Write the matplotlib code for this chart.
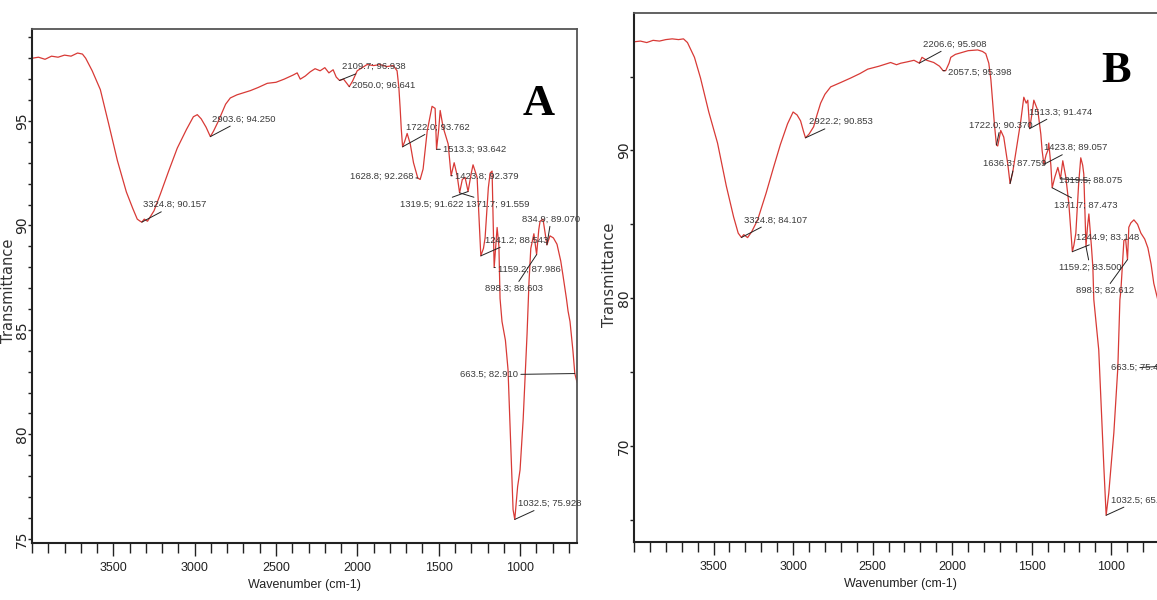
import matplotlib
matplotlib.use("Agg")
import matplotlib.pyplot as plt
from matplotlib.ticker import MultipleLocator

# ---------------- Panel A data ----------------
a_wn = [4000, 3960, 3920, 3880, 3840, 3800, 3760, 3720, 3690, 3670, 3630, 3580, 3530, 3475,
        3420, 3380, 3353, 3335, 3324.8, 3310, 3290, 3250, 3211, 3160, 3107, 3050, 3008, 2984,
        2960, 2930, 2903.6, 2885, 2860, 2843, 2810, 2781, 2740, 2700, 2658, 2610, 2554, 2500,
        2450, 2394, 2370, 2351, 2320, 2290, 2260, 2229, 2200, 2175, 2149, 2130, 2109.7, 2085,
        2065, 2050.0, 2030, 2001, 1970, 1940, 1900, 1860, 1820, 1780, 1756, 1745, 1737, 1730,
        1722.0, 1710, 1694, 1675, 1655, 1628.8, 1614, 1596, 1571, 1541, 1522, 1513.3, 1500,
        1491, 1473, 1442, 1423.8, 1405, 1387, 1371.7, 1355, 1338, 1319.5, 1300, 1289, 1264,
        1241.2, 1225, 1215, 1195, 1184, 1172, 1159.2, 1141, 1130, 1123, 1111, 1090, 1074, 1055,
        1043, 1032.5, 1015, 1000, 981, 957, 945, 934, 915, 898.3, 885, 877, 859, 834.9, 816,
        795, 773, 750, 736, 715, 705, 693, 675, 663.5, 650]
a_t = [98.0, 98.05, 97.95, 98.1, 98.05, 98.15, 98.1, 98.25, 98.2, 98.0, 97.4, 96.5, 94.9, 93.1,
       91.6, 90.8, 90.3, 90.2, 90.157, 90.3, 90.2, 90.7, 91.5, 92.6, 93.7, 94.6, 95.2, 95.3,
       95.1, 94.7, 94.25, 94.5, 94.9, 95.2, 95.8, 96.1, 96.25, 96.35, 96.45, 96.6, 96.8, 96.85,
       97.0, 97.2, 97.3, 97.0, 97.15, 97.35, 97.5, 97.4, 97.55, 97.3, 97.45, 97.1, 96.938, 97.0,
       96.8, 96.641, 96.9, 97.4, 97.55, 97.7, 97.65, 97.7, 97.6, 97.65, 97.4, 96.6, 95.6, 94.6,
       93.762, 94.0, 94.4, 93.9, 93.0, 92.268, 92.2, 92.7, 94.5, 95.7, 95.6, 93.642, 94.6,
       95.5, 94.7, 93.9, 92.379, 93.0, 92.4, 91.559, 92.2, 92.3, 91.622, 92.5, 92.9, 92.3,
       88.543, 88.9, 89.4, 91.8, 92.5, 92.6, 87.986, 89.9, 89.0, 86.5, 85.4, 84.5, 83.1, 79.0,
       76.4, 75.928, 77.5, 78.3, 80.7, 84.8, 87.3, 88.9, 89.6, 88.603, 89.8, 90.2, 90.3, 89.07, 89.5,
       89.4, 89.1, 88.3, 87.6, 86.5, 85.9, 85.4, 84.0, 82.91, 82.5]

a_labels = ["3324.8; 90.157", "2903.6; 94.250", "2109.7; 96.938", "2050.0; 96.641",
            "1722.0; 93.762", "1628.8; 92.268", "1513.3; 93.642", "1423.8; 92.379",
            "1319.5; 91.622", "1371.7; 91.559", "834.9; 89.070", "1241.2; 88.543",
            "1159.2; 87.986", "898.3; 88.603", "663.5; 82.910", "1032.5; 75.928"]
a_peak_wn = [3324.8, 2903.6, 2109.7, 2050.0, 1722.0, 1628.8, 1513.3, 1423.8,
             1319.5, 1371.7, 834.9, 1241.2, 1159.2, 898.3, 663.5, 1032.5]
a_peak_t = [90.157, 94.250, 96.938, 96.641, 93.762, 92.268, 93.642, 92.379,
            91.622, 91.559, 89.070, 88.543, 87.986, 88.603, 82.910, 75.928]
a_text_wn = [3316, 2892, 2094, 2032, 1700, 1657, 1473, 1399,
             1735, 1333, 988, 1215, 1135, 1215, 1012, 1012]
a_text_t = [91.0, 95.1, 97.6, 96.7, 94.7, 92.35, 93.65, 92.35,
            91.0, 91.0, 90.3, 89.3, 87.9, 86.97, 82.85, 76.7]
a_text_ha = ["left"] * 5 + ["right"] + ["left"] * 8 + ["right", "left"]

# ---------------- Panel B data ----------------
b_wn = [4000, 3960, 3920, 3880, 3840, 3800, 3760, 3720, 3689, 3664, 3620, 3582, 3530, 3475,
        3420, 3374, 3345, 3324.8, 3310, 3286, 3260, 3223, 3170, 3123, 3080, 3035, 3000, 2975,
        2953, 2935, 2922.2, 2900, 2871, 2850, 2827, 2800, 2764, 2700, 2638, 2580, 2531, 2460,
        2387, 2350, 2324, 2280, 2240, 2206.6, 2190, 2160, 2116, 2080, 2057.5, 2041, 2020, 2009,
        1980, 1947, 1900, 1840, 1810, 1789, 1770, 1757, 1745, 1735, 1722.0, 1714, 1695, 1676,
        1651, 1636.3, 1620, 1601, 1569, 1550, 1535, 1525, 1513.3, 1500, 1487, 1462, 1443, 1435,
        1423.8, 1410, 1399, 1393, 1380, 1371.7, 1355, 1336, 1319.5, 1305, 1286, 1267, 1244.9,
        1235, 1223, 1205, 1192, 1180, 1173, 1159.2, 1150, 1141, 1125, 1116, 1110, 1079, 1047,
        1032.5, 1016, 984, 959, 946, 940, 921, 910, 898.3, 890, 877, 858, 835, 814, 790, 770,
        750, 733, 708, 690, 663.5, 650]
b_t = [97.35, 97.4, 97.3, 97.45, 97.4, 97.5, 97.55, 97.5, 97.55, 97.3, 96.3, 94.9, 92.6, 90.5,
       87.6, 85.5, 84.4, 84.107, 84.3, 84.1, 84.5, 85.3, 87.1, 88.85, 90.4, 91.8, 92.6, 92.4,
       92.0, 91.3, 90.853, 91.1, 91.6, 92.4, 93.2, 93.8, 94.3, 94.6, 94.9, 95.2, 95.5, 95.7,
       95.95, 95.8, 95.9, 96.0, 96.1, 95.908, 96.3, 96.1, 95.95, 95.7, 95.398, 95.4, 95.9, 96.3,
       96.5, 96.6, 96.75, 96.8, 96.7, 96.55, 95.9, 94.8, 93.2, 91.8, 90.37, 90.3, 91.35, 90.9,
       89.1, 87.759, 88.5, 89.8, 92.0, 93.6, 93.2, 93.4, 91.474, 92.4, 93.4, 92.7, 91.1, 90.0,
       89.057, 89.7, 90.0, 90.5, 89.0, 87.473, 88.2, 88.85, 88.075, 89.3, 88.2, 86.4, 83.148,
       83.6, 84.4, 87.8, 89.5, 89.0, 88.4, 83.5, 84.8, 85.7, 83.5, 82.1, 79.9, 76.5, 68.6,
       65.31, 66.8, 70.9, 75.3, 79.9, 80.5, 83.9, 84.0, 82.612, 84.8, 85.1, 85.3, 85.0, 84.4, 84.0, 83.4,
       82.3, 81.0, 79.9, 78.5, 75.416, 75.0]

b_labels = ["3324.8; 84.107", "2922.2; 90.853", "2206.6; 95.908", "2057.5; 95.398",
            "1722.0; 90.370", "1636.3; 87.759", "1513.3; 91.474", "1423.8; 89.057",
            "1319.5; 88.075", "1371.7; 87.473", "1244.9; 83.148", "1159.2; 83.500",
            "898.3; 82.612", "663.5; 75.416", "1032.5; 65.31"]
b_peak_wn = [3324.8, 2922.2, 2206.6, 2057.5, 1722.0, 1636.3, 1513.3, 1423.8,
             1319.5, 1371.7, 1244.9, 1159.2, 898.3, 663.5, 1032.5]
b_peak_t = [84.107, 90.853, 95.908, 95.398, 90.370, 87.759, 91.474, 89.057,
            88.075, 87.473, 83.148, 83.500, 82.612, 75.416, 65.31]
b_text_wn = [3311, 2902, 2185, 2028, 1896, 1808, 1520, 1420,
             1330, 1362, 1223, 1330, 1223, 1003, 1003]
b_text_t = [85.3, 91.95, 97.2, 95.3, 91.7, 89.1, 92.6, 90.2,
            87.97, 86.3, 84.1, 82.1, 80.5, 75.3, 66.35]

xticks_major = [3500, 3000, 2500, 2000, 1500, 1000]

RED = "#d83a36"
TXT = "#3a3a3a"
NARROW = ["Liberation Sans", "DejaVu Sans"]

fig = plt.figure(figsize=(11.57, 6), dpi=100)
fig.patch.set_facecolor("white")

axA = fig.add_axes([32 / 1157, 57 / 600, 545 / 1157, 514 / 600])
axB = fig.add_axes([634 / 1157, 58 / 600, 533 / 1157, 529 / 600])


def style(ax, ylim, ymaj, ymin, ylab_x, ylab_y):
    ax.set_xlim(4000, 650)
    ax.set_ylim(*ylim)
    ax.set_xticks(xticks_major)
    ax.xaxis.set_minor_locator(MultipleLocator(100))
    ax.yaxis.set_major_locator(MultipleLocator(ymaj))
    ax.yaxis.set_minor_locator(MultipleLocator(ymin))
    ax.tick_params(axis="x", which="major", length=9.5, width=1.0, pad=4, direction="out",
                   labelsize=9, colors="#222")
    ax.tick_params(axis="x", which="minor", length=7.5, width=1.0, direction="out", colors="#222")
    ax.tick_params(axis="y", which="both", length=3.0, width=1.0, pad=-1.0, direction="out",
                   labelsize=10, labelrotation=90, colors="#222")
    for lab in ax.get_yticklabels():
        lab.set_va("center")
        lab.set_family(["DejaVu Sans"])
    for lab in ax.get_xticklabels():
        lab.set_family(NARROW)
    for s in ["left", "bottom"]:
        ax.spines[s].set_linewidth(1.5)
        ax.spines[s].set_color("#222")
    for s in ["top", "right"]:
        ax.spines[s].set_linewidth(1.3)
        ax.spines[s].set_color("#555")
    ax.set_xlabel("Wavenumber (cm-1)", family=NARROW, fontsize=9, color="#222", labelpad=4)
    ax.set_ylabel("Transmittance", family=["DejaVu Sans"], fontsize=10.5, color="#333")
    ax.yaxis.set_label_coords(ylab_x, ylab_y)


style(axA, (74.8, 99.4), 5, 1, -0.029, 0.49)
style(axB, (63.5, 99.3), 10, 5, -0.032, 0.505)

axA.plot(a_wn, a_t, color=RED, lw=0.9)
axB.plot(b_wn, b_t, color=RED, lw=0.9)


def annotate(ax, labels, pwn, pt, twn, tt, has):
    for lab, x0, y0, x1, y1, ha in zip(labels, pwn, pt, twn, tt, has):
        ax.annotate(lab, xy=(x0, y0), xytext=(x1, y1), ha=ha, va="center",
                    fontsize=6.8, family=NARROW, color=TXT,
                    arrowprops=dict(arrowstyle="-", color="#222", lw=0.7,
                                    shrinkA=0, shrinkB=0))


annotate(axA, a_labels, a_peak_wn, a_peak_t, a_text_wn, a_text_t, a_text_ha)
annotate(axB, b_labels, b_peak_wn, b_peak_t, b_text_wn, b_text_t, ["left"] * len(b_labels))

axA.text(888, 95.8, "A", fontsize=32, fontweight="bold", family=["Liberation Serif", "DejaVu Serif"],
         ha="center", va="center", color="black")
axB.text(972, 95.4, "B", fontsize=32, fontweight="bold", family=["Liberation Serif", "DejaVu Serif"],
         ha="center", va="center", color="black")

fig.savefig("out.png", dpi=100)
